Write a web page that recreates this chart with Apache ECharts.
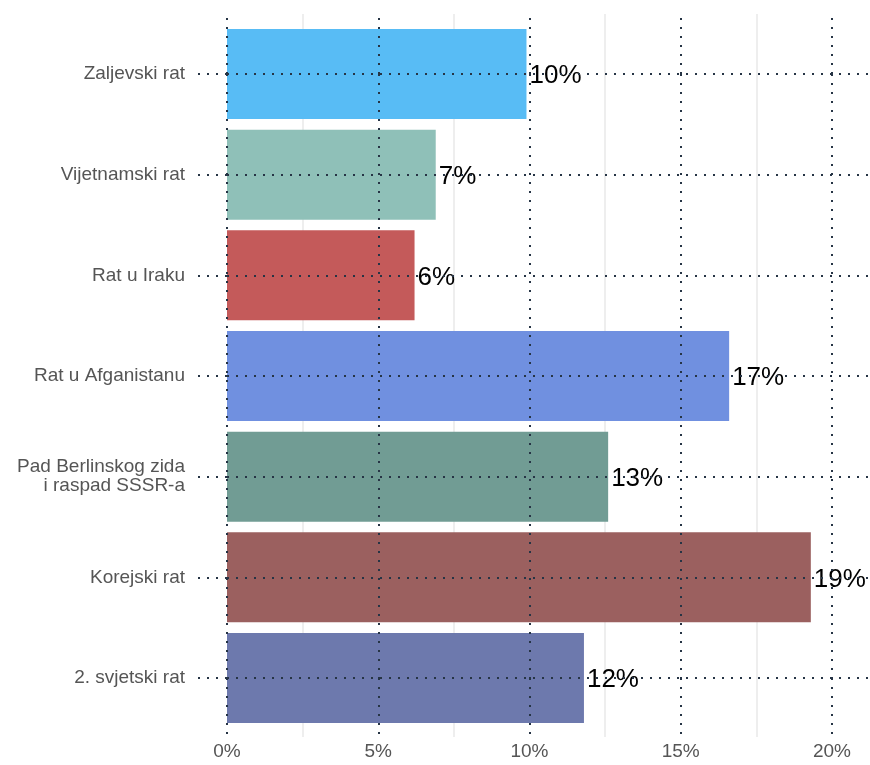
<!DOCTYPE html>
<html>
<head>
<meta charset="utf-8">
<title>Ratovi</title>
<script src="https://cdn.jsdelivr.net/npm/echarts@6/dist/echarts.min.js"></script>
<style>
  html, body { margin: 0; padding: 0; background: #fff; }
  #main { width: 870px; height: 765px; }
</style>
</head>
<body>
<div id="main"></div>
<script>
// categories, bottom to top
var categories = ['2. svjetski rat', 'Korejski rat', 'Pad Berlinskog zida\ni raspad SSSR-a', 'Rat u Afganistanu', 'Rat u Iraku', 'Vijetnamski rat', 'Zaljevski rat'];
var values = [11.8, 19.3, 12.6, 16.6, 6.2, 6.9, 9.9];
var colors = ['#6d79ad', '#9b605f', '#719c94', '#7090e0', '#c45a5a', '#8fc0b8', '#58bcf5'];
var xTicks = [0, 5, 10, 15, 20];
var xMinorTicks = [2.5, 7.5, 12.5, 17.5];

var font = "'Liberation Sans', Arial, sans-serif";
var dotStyle = { color: '#263445', width: 2, type: [2, 7] };
var minorStyle = { color: '#e8e8e8', width: 1.5, type: 'solid' };
// plot area runs on past the 20% line up to the right edge
var xMin = 0, xMax = 20 * 643 / 605;

function plainX(pos, z, extra) {
  var ax = {
    type: 'value', position: pos, min: xMin, max: xMax, z: z,
    axisLine: { show: false },
    axisTick: { show: false },
    splitLine: { show: false },
    axisLabel: { show: false }
  };
  for (var k in extra) ax[k] = extra[k];
  return ax;
}

var myChart = echarts.init(document.getElementById('main'));

var option = {
  backgroundColor: '#fff',
  animation: false,
  grid: { left: 227, right: 0, top: 74, bottom: 87, containLabel: false },
  xAxis: [
    // dotted lines + labels, above the bars
    plainX('bottom', 5, {
      axisTick: { show: true, customValues: xTicks, length: 59, lineStyle: dotStyle },
      splitLine: { show: true, lineStyle: dotStyle },
      axisLabel: {
        show: true, customValues: xTicks, margin: 64, color: '#555', fontSize: 19, fontFamily: font,
        formatter: function (v) { return v + '%'; }
      }
    }),
    plainX('top', 5, {
      axisTick: { show: true, customValues: xTicks, length: 60, lineStyle: dotStyle }
    }),
    // light lines between, behind the bars
    plainX('bottom', 0, {
      axisTick: { show: true, customValues: xMinorTicks, length: 59, lineStyle: minorStyle },
      splitLine: { show: true, lineStyle: minorStyle }
    }),
    plainX('top', 0, {
      axisTick: { show: true, customValues: xMinorTicks, length: 60, lineStyle: minorStyle }
    })
  ],
  yAxis: [{
    type: 'category',
    data: categories,
    boundaryGap: false,
    z: 5,
    axisLine: { show: false },
    axisTick: { show: true, interval: 0, length: 30, lineStyle: dotStyle },
    splitLine: { show: true, interval: 0, lineStyle: dotStyle },
    axisLabel: {
      interval: 0,
      margin: 42,
      color: '#555',
      fontSize: 19,
      lineHeight: 19,
      fontFamily: font,
      align: 'right'
    }
  }],
  series: [{
    type: 'bar',
    xAxisIndex: 0,
    yAxisIndex: 0,
    data: values.map(function (v, i) {
      return { value: v, itemStyle: { color: colors[i] } };
    }),
    barWidth: 90,
    clip: false,
    z: 2,
    label: {
      show: true,
      position: 'right',
      distance: 3,
      offset: [0, 2],
      color: '#000',
      fontSize: 26,
      fontFamily: font,
      formatter: function (p) { return Math.round(p.value) + '%'; }
    }
  }]
};

myChart.setOption(option);
</script>
</body>
</html>
